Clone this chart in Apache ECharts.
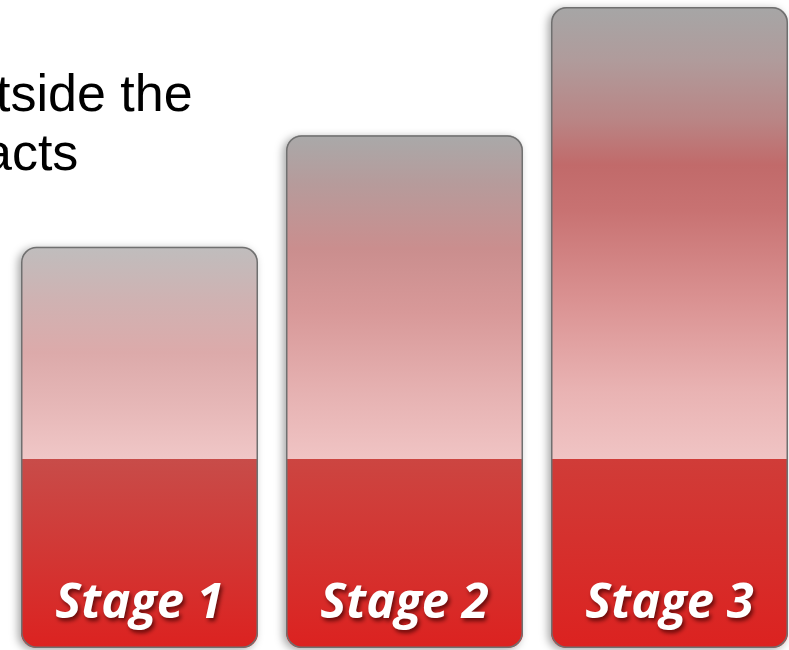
<!DOCTYPE html>
<html>
<head>
<meta charset="utf-8">
<script src="https://cdn.jsdelivr.net/npm/echarts@6/dist/echarts.min.js"></script>
<style>
html,body{margin:0;padding:0;background:#fff;}
#chart{width:789px;height:650px;}
</style>
</head>
<body>
<div id="chart"></div>
<script>
var categories = ['Stage 1', 'Stage 2', 'Stage 3'];
var baseValues = [29.5, 29.5, 29.5];
var upperValues = [33.1, 50.5, 70.5];
var headlineLines = ['tside the', 'acts'];

var totals = baseValues.map(function (v, i) { return v + upperValues[i]; });

var upperGradients = [
  [[0, '#bfbdbd'], [0.25, '#cfb2b2'], [0.5, '#dcaaaa'], [0.75, '#e6b7b7'], [1, '#f0c7c7']],
  [[0, '#a9a9a9'], [0.15, '#b69b9b'], [0.35, '#ca8e8e'], [0.55, '#d89999'], [0.8, '#e6b2b2'], [1, '#f0c4c4']],
  [[0, '#a6a6a6'], [0.12, '#b09b9b'], [0.25, '#b98585'], [0.35, '#c16a6a'], [0.45, '#c87272'], [0.65, '#da9292'], [0.85, '#e9b3b3'], [1, '#f0c4c4']]
];
var baseGradients = [
  [[0, '#c84c49'], [1, '#dc2220']],
  [[0, '#cc4541'], [1, '#dc2220']],
  [[0, '#d03c38'], [1, '#dc2220']]
];

function grad(stops) {
  return new echarts.graphic.LinearGradient(0, 0, 0, 1, stops.map(function (s) {
    return { offset: s[0], color: s[1] };
  }));
}

var BW = 237;
var chart = echarts.init(document.getElementById('chart'));
chart.setOption({
  animation: false,
  backgroundColor: '#ffffff',
  grid: { left: 7, width: 795, top: 7, height: 641, outerBoundsMode: 'none', containLabel: false },
  xAxis: {
    type: 'category',
    data: categories,
    axisLine: { show: false },
    axisTick: { show: false },
    axisLabel: { show: false },
    splitLine: { show: false }
  },
  yAxis: {
    type: 'value',
    min: 0,
    max: 100,
    show: false
  },
  graphic: [
    {
      type: 'text',
      left: -4,
      top: 71,
      style: { text: headlineLines[0], font: '52px "Liberation Sans", Arial, sans-serif', fill: '#000' }
    },
    {
      type: 'text',
      left: -17,
      top: 130,
      style: { text: headlineLines[1], font: '52px "Liberation Sans", Arial, sans-serif', fill: '#000' }
    }
  ],
  series: [
    {
      name: 'shadow',
      type: 'bar',
      barWidth: BW,
      barGap: '-100%',
      silent: true,
      data: totals,
      itemStyle: {
        color: '#ffffff',
        borderRadius: 15,
        shadowBlur: 8,
        shadowOffsetX: -3,
        shadowOffsetY: 2,
        shadowColor: 'rgba(0,0,0,0.35)'
      },
      z: 1
    },
    {
      name: 'base',
      type: 'bar',
      stack: 'stage',
      barWidth: BW,
      barGap: '-100%',
      data: baseValues.map(function (v, i) {
        return { value: v, itemStyle: { color: grad(baseGradients[i]) } };
      }),
      itemStyle: { borderRadius: [0, 0, 15, 15] },
      label: {
        show: true,
        position: 'insideBottom',
        distance: 19,
        formatter: function (p) { return categories[p.dataIndex]; },
        color: '#ffffff',
        fontFamily: '"Open Sans", "Noto Sans", sans-serif',
        fontStyle: 'italic',
        fontWeight: 'bold',
        fontSize: 49,
        textShadowColor: 'rgba(60,0,0,0.75)',
        textShadowBlur: 4,
        textShadowOffsetX: 2,
        textShadowOffsetY: 3
      },
      z: 2
    },
    {
      name: 'upper',
      type: 'bar',
      stack: 'stage',
      barWidth: BW,
      barGap: '-100%',
      data: upperValues.map(function (v, i) {
        return { value: v, itemStyle: { color: grad(upperGradients[i]) } };
      }),
      itemStyle: { borderRadius: [15, 15, 0, 0] },
      z: 2
    },
    {
      name: 'outline',
      type: 'bar',
      barWidth: BW,
      barGap: '-100%',
      silent: true,
      data: totals,
      itemStyle: {
        color: 'rgba(0,0,0,0)',
        borderColor: '#707070',
        borderWidth: 1.5,
        borderRadius: 15
      },
      z: 3
    }
  ]
});
</script>
</body>
</html>
